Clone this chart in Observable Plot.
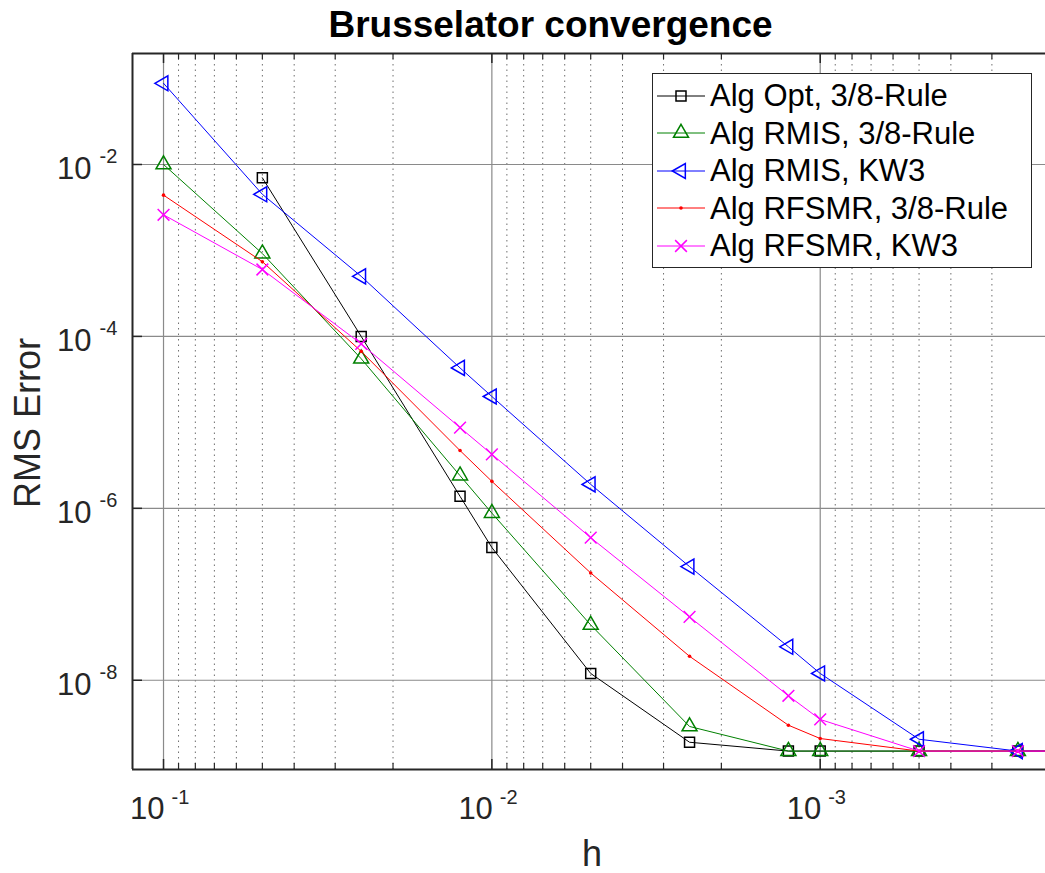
<!DOCTYPE html>
<html><head><meta charset="utf-8">
<script src="https://cdn.jsdelivr.net/npm/d3@7"></script>
<script src="https://cdn.jsdelivr.net/npm/@observablehq/plot@0.6"></script>
<style>
body{margin:0;background:#fff;font-family:"Liberation Sans",Arial,sans-serif;}
#wrap{position:relative;width:1045px;height:873px;overflow:hidden;}
#legend{position:absolute;left:652px;top:73px;width:380px;height:195px;border:1.3px solid #262626;background:#fff;box-sizing:border-box;padding-top:3px;}
.row{height:37.5px;display:flex;align-items:center;}
.row svg{margin-left:4px;flex:none;overflow:visible;}
.row span{margin-left:5px;font-size:31px;color:#000;white-space:nowrap;line-height:1;}
</style></head><body><div id="wrap"></div>
<script>
// step sizes h
const h = [0.1, 0.05, 0.025, 0.0125, 0.01, 0.005, 0.0025, 0.00125, 0.001, 0.0005, 0.00025, 0.000125];
// RMS errors per algorithm
const algOpt38   = [null,   7.0e-3, 1.0e-4, 1.38e-6, 3.5e-7, 1.2e-8, 1.9e-9, 1.5e-9, 1.5e-9, 1.5e-9, 1.5e-9, 1.5e-9];
const algRmis38  = [1.0e-2, 9.2e-4, 5.5e-5, 2.4e-6, 8.8e-7, 4.4e-8, 2.9e-9, 1.5e-9, 1.5e-9, 1.5e-9, 1.5e-9, 1.5e-9];
const algRmisKW3 = [8.8e-2, 4.5e-3, 5.0e-4, 4.3e-5, 2.0e-5, 1.9e-6, 2.1e-7, 2.45e-8, 1.2e-8, 2.06e-9, 1.5e-9, 1.5e-9];
const algRfsmr38 = [4.4e-3, 7.4e-4, 6.7e-5, 4.7e-6, 2.06e-6, 1.77e-7, 1.9e-8, 3.0e-9, 2.1e-9, 1.5e-9, 1.5e-9, 1.5e-9];
const algRfsmrKW3= [2.6e-3, 6.0e-4, 8.2e-5, 8.7e-6, 4.25e-6, 4.56e-7, 5.45e-8, 6.6e-9, 3.5e-9, 1.5e-9, 1.5e-9, 1.5e-9];

const seriesNames = ["Alg Opt, 3/8-Rule", "Alg RMIS, 3/8-Rule", "Alg RMIS, KW3", "Alg RFSMR, 3/8-Rule", "Alg RFSMR, KW3"];
const seriesValues = [algOpt38, algRmis38, algRmisKW3, algRfsmr38, algRfsmrKW3];
const seriesColors = ["#000000", "#008000", "#0000ff", "#ff0000", "#ff00ff"];
const seriesSymbols = ["square", "triangle", "triangle", "circle", "times"];
const seriesR = [5.64, 5.57, 5.57, 1.8, 5.4];
const seriesRotate = [0, 0, -90, 0, 0];
const seriesFilled = [false, false, false, true, false];

// axes
const xDomain = [0.1243, 2.06e-4];
const yDomain = [9.16e-10, 0.1955];
const xMajor = [{v: 1e-1, e: "-1"}, {v: 1e-2, e: "-2"}, {v: 1e-3, e: "-3"}];
const yMajor = [{v: 1e-2, e: "-2"}, {v: 1e-4, e: "-4"}, {v: 1e-6, e: "-6"}, {v: 1e-8, e: "-8"}];
const xMinor = [];
for (const dec of [1e-2, 1e-3, 1e-4]) for (let k = 2; k <= 9; k++) {
  const t = k * dec;
  if (t < xDomain[0] && t > xDomain[1]) xMinor.push(t);
}

const W = 1045, H = 873, mT = 53, mL = 132, mR = 0, mB = 104;
const innerW = W - mL - mR, innerH = H - mT - mB;
const axisColor = "#262626";

const rows = [];
seriesValues.forEach((vals, i) => vals.forEach((v, j) => { if (v != null) rows.push({i, h: h[j], v}); }));

const dataMarks = seriesNames.flatMap((name, i) => {
  const d = rows.filter(r => r.i === i);
  return [
    Plot.line(d, {x: "h", y: "v", stroke: seriesColors[i], strokeWidth: 1, clip: true}),
    Plot.dot(d, {x: "h", y: "v", symbol: seriesSymbols[i], r: seriesR[i],
      stroke: seriesFilled[i] ? "none" : seriesColors[i], fill: seriesFilled[i] ? seriesColors[i] : "none",
      strokeWidth: 1.5, rotate: seriesRotate[i], clip: true})
  ];
});

const chart = Plot.plot({
  width: W, height: H,
  marginTop: mT, marginLeft: mL, marginRight: mR, marginBottom: mB,
  style: {fontFamily: "'Liberation Sans', Arial, sans-serif", background: "#fff", overflow: "visible"},
  x: {type: "log", domain: xDomain, axis: null},
  y: {type: "log", domain: yDomain, axis: null},
  marks: [
    // grid
    Plot.ruleX(xMinor, {stroke: "#6e6e6e", strokeWidth: 1, strokeDasharray: "1.5,4"}),
    Plot.ruleX(xMajor, {x: "v", stroke: "#8a8a8a", strokeWidth: 1.2}),
    Plot.ruleY(yMajor, {y: "v", stroke: "#8a8a8a", strokeWidth: 1.2}),
    // data
    ...dataMarks,
    // frame lines
    Plot.ruleY([yDomain[0]], {stroke: axisColor, strokeWidth: 2}),
    Plot.ruleY([yDomain[1]], {stroke: axisColor, strokeWidth: 2}),
    Plot.ruleX([xDomain[0]], {stroke: axisColor, strokeWidth: 2}),
    // ticks
    Plot.ruleX(xMajor, {x: "v", stroke: axisColor, strokeWidth: 1.5, insetTop: innerH - 10}),
    Plot.ruleX(xMajor, {x: "v", stroke: axisColor, strokeWidth: 1.5, insetBottom: innerH - 10}),
    Plot.ruleX(xMinor, {stroke: axisColor, strokeWidth: 1.2, insetTop: innerH - 6}),
    Plot.ruleX(xMinor, {stroke: axisColor, strokeWidth: 1.2, insetBottom: innerH - 6}),
    Plot.ruleY(yMajor, {y: "v", stroke: axisColor, strokeWidth: 1.5, insetRight: innerW - 10}),
    // tick labels
    Plot.text(xMajor, {x: "v", frameAnchor: "bottom", lineAnchor: "middle", text: () => "10", textAnchor: "end", dx: 1, dy: 40, fontSize: 31, fill: axisColor}),
    Plot.text(xMajor, {x: "v", frameAnchor: "bottom", lineAnchor: "middle", text: "e", textAnchor: "start", dx: 8, dy: 27.6, fontSize: 20, fill: axisColor}),
    Plot.text(yMajor, {y: "v", frameAnchor: "left", lineAnchor: "middle", text: () => "10", textAnchor: "end", dx: -41, dy: 4.5, fontSize: 31, fill: axisColor}),
    Plot.text(yMajor, {y: "v", frameAnchor: "left", lineAnchor: "middle", text: "e", textAnchor: "start", dx: -33, dy: -7.5, fontSize: 20, fill: axisColor}),
    // labels
    Plot.text(["Brusselator convergence"], {frameAnchor: "top", lineAnchor: "middle", textAnchor: "middle", dx: -38.5, dy: -28.8, fontSize: 37, fontWeight: "bold", fill: "#000"}),
    Plot.text(["h"], {frameAnchor: "bottom", lineAnchor: "middle", textAnchor: "middle", dx: 3, dy: 84.5, fontSize: 36, fill: axisColor}),
    Plot.text(["RMS Error"], {frameAnchor: "left", lineAnchor: "middle", textAnchor: "middle", rotate: -90, dx: -104.5, dy: 11.5, fontSize: 36, fill: axisColor})
  ]
});

const wrap = document.getElementById("wrap");
wrap.appendChild(chart);

// legend
const symMap = {square: d3.symbolSquare, triangle: d3.symbolTriangle, circle: d3.symbolCircle, times: d3.symbolTimes};
const legend = document.createElement("div");
legend.id = "legend";
seriesNames.forEach((name, i) => {
  const row = document.createElement("div");
  row.className = "row";
  const size = seriesR[i] * seriesR[i] * Math.PI;
  const path = d3.symbol(symMap[seriesSymbols[i]], size)();
  const fill = seriesFilled[i] ? seriesColors[i] : "none";
  const stroke = seriesFilled[i] ? "none" : seriesColors[i];
  row.innerHTML = `<svg width="48" height="30"><line x1="0" x2="48" y1="15" y2="15" stroke="${seriesColors[i]}" stroke-width="1"/>` +
    `<path d="${path}" transform="translate(24,15) rotate(${seriesRotate[i]})" fill="${fill}" stroke="${stroke}" stroke-width="1.5"/></svg>` +
    `<span>${name}</span>`;
  legend.appendChild(row);
});
wrap.appendChild(legend);
</script></body></html>
